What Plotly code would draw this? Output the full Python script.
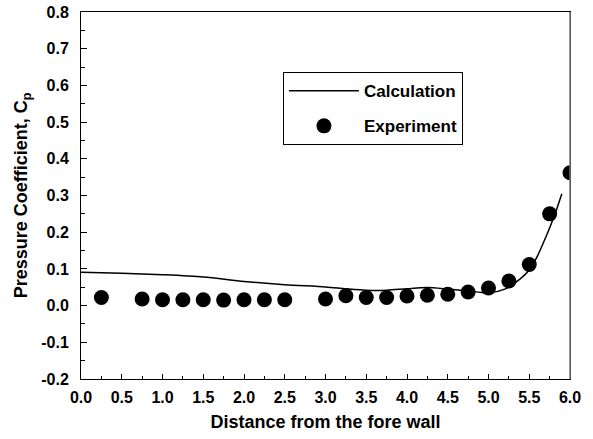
import plotly.graph_objects as go

# Experiment data
exp_x = [0.25, 0.75, 1.0, 1.25, 1.5, 1.75, 2.0, 2.25, 2.5, 3.0, 3.25, 3.5,
         3.75, 4.0, 4.25, 4.5, 4.75, 5.0, 5.25, 5.5, 5.75, 6.0]
exp_y = [0.022, 0.018, 0.016, 0.016, 0.016, 0.015, 0.016, 0.016, 0.016, 0.018,
         0.027, 0.022, 0.022, 0.026, 0.028, 0.031, 0.037, 0.048, 0.067, 0.112,
         0.25, 0.362]

# Calculation curve
calc_x = [0.0, 0.5, 1.0, 1.5, 2.0, 2.5, 3.0, 3.25, 3.5, 3.75, 4.0, 4.25,
          4.5, 4.75, 5.0, 5.2, 5.4, 5.5, 5.6, 5.7, 5.8, 5.9]
calc_y = [0.091, 0.088, 0.084, 0.078, 0.066, 0.057, 0.051, 0.046, 0.042,
          0.042, 0.046, 0.049, 0.045, 0.040, 0.035, 0.045, 0.075, 0.097,
          0.135, 0.185, 0.24, 0.305]

x_ticks = [0.0, 0.5, 1.0, 1.5, 2.0, 2.5, 3.0, 3.5, 4.0, 4.5, 5.0, 5.5, 6.0]
x_labels = ["0.0", "0.5", "1.0", "1.5", "2.0", "2.5", "3.0", "3.5", "4.0",
            "4.5", "5.0", "5.5", "6.0"]
y_ticks = [-0.2, -0.1, 0.0, 0.1, 0.2, 0.3, 0.4, 0.5, 0.6, 0.7, 0.8]
y_labels = ["-0.2", "-0.1", "0.0", "0.1", "0.2", "0.3", "0.4", "0.5", "0.6",
            "0.7", "0.8"]

FONT = "Liberation Sans"

fig = go.Figure()
fig.add_trace(go.Scatter(
    x=calc_x, y=calc_y, mode="lines", name="Calculation",
    line=dict(color="black", width=1.5, shape="spline", smoothing=0.8),
    legendgroup="a",
))
fig.add_trace(go.Scatter(
    x=exp_x, y=exp_y, mode="markers", name="Experiment",
    marker=dict(color="black", size=15, symbol="circle"),
    legendgroup="b",
))

fig.update_layout(
    width=593, height=439,
    margin=dict(l=81, r=23, t=12, b=60, autoexpand=False),
    paper_bgcolor="white", plot_bgcolor="white",
    font=dict(family=FONT, color="black", size=15, weight="bold"),
    showlegend=True,
    legend=dict(
        x=0.413, y=0.836, xanchor="left", yanchor="top",
        bordercolor="black", borderwidth=1, bgcolor="white",
        font=dict(family=FONT, size=17, weight="bold"),
        itemwidth=70, tracegroupgap=10, traceorder="grouped",
        itemsizing="trace",
    ),
)

fig.update_xaxes(
    range=[0, 6], tickvals=x_ticks, ticktext=x_labels,
    ticks="inside", ticklen=5, tickcolor="black", tickwidth=1,
    ticklabelstandoff=4, automargin=False,
    minor=dict(ticks="inside", ticklen=3, dtick=0.25, tick0=0, tickcolor="black"),
    showline=True, linecolor="black", linewidth=1, mirror=True,
    showgrid=False, zeroline=False,
    tickfont=dict(family=FONT, size=16, weight="bold"),
    title=dict(text="Distance from the fore wall", standoff=10,
               font=dict(family=FONT, size=18, weight="bold")),
)
fig.update_yaxes(
    range=[-0.2, 0.8], tickvals=y_ticks, ticktext=y_labels,
    ticks="inside", ticklen=6, tickcolor="black", tickwidth=1,
    ticklabelstandoff=8, automargin=False,
    minor=dict(ticks="inside", ticklen=4, dtick=0.05, tick0=0, tickcolor="black"),
    showline=True, linecolor="black", linewidth=1, mirror=True,
    showgrid=False, zeroline=False,
    tickfont=dict(family=FONT, size=16, weight="bold"),
    title=dict(text="Pressure Coefficient, C<sub>p</sub>", standoff=8,
               font=dict(family=FONT, size=18, weight="bold")),
)

# right frame line is grey in the original
fig.add_shape(type="line", xref="paper", yref="paper", x0=1, x1=1, y0=0, y1=1,
              line=dict(color="#777777", width=1.5))

fig.write_html("out.html")
